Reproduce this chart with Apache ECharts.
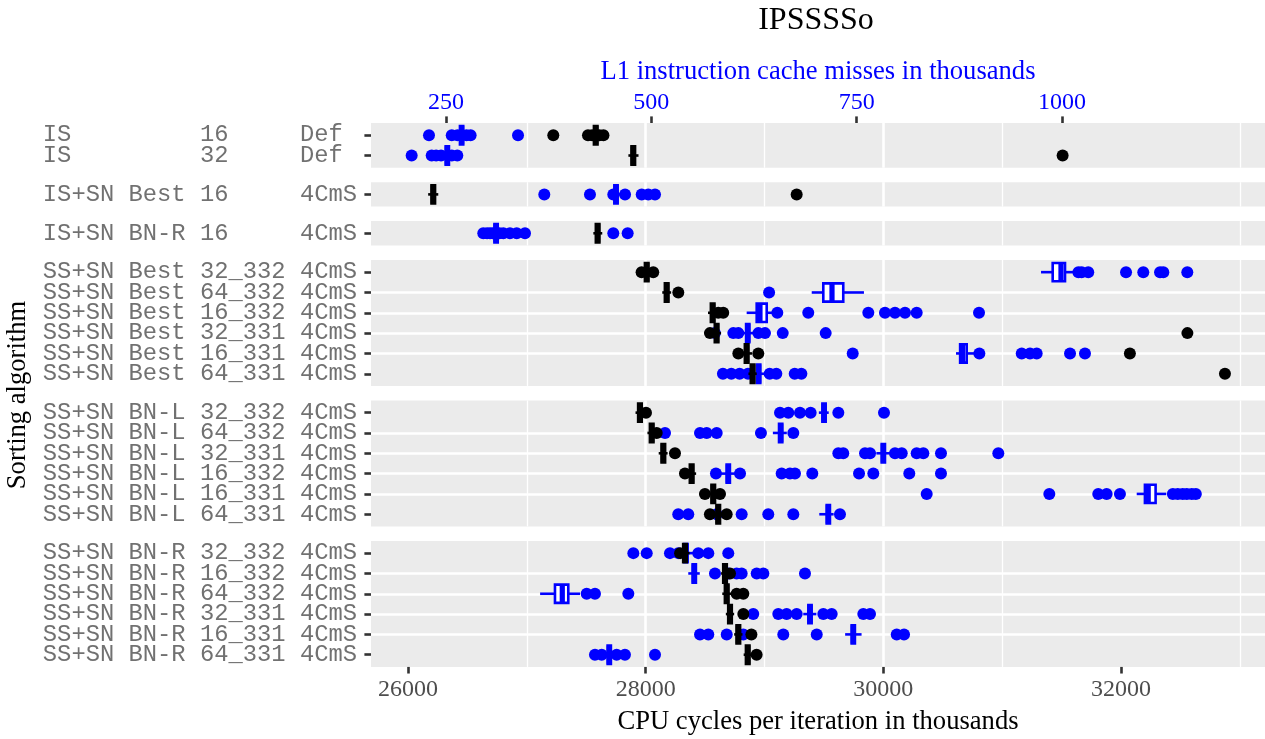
<!DOCTYPE html>
<html><head><meta charset="utf-8">
<script src="https://cdn.jsdelivr.net/npm/echarts@6/dist/echarts.min.js"></script>
<style>html,body{margin:0;padding:0;background:#fff}#c{width:1265px;height:739px}</style>
</head><body><div id="c"></div>
<script>
// ---------------- data ----------------
const rowLabels = [
  "IS         16     Def ",
  "IS         32     Def ",
  "IS+SN Best 16     4CmS",
  "IS+SN BN-R 16     4CmS",
  "SS+SN Best 32_332 4CmS",
  "SS+SN Best 64_332 4CmS",
  "SS+SN Best 16_332 4CmS",
  "SS+SN Best 32_331 4CmS",
  "SS+SN Best 16_331 4CmS",
  "SS+SN Best 64_331 4CmS",
  "SS+SN BN-L 32_332 4CmS",
  "SS+SN BN-L 64_332 4CmS",
  "SS+SN BN-L 32_331 4CmS",
  "SS+SN BN-L 16_332 4CmS",
  "SS+SN BN-L 16_331 4CmS",
  "SS+SN BN-L 64_331 4CmS",
  "SS+SN BN-R 32_332 4CmS",
  "SS+SN BN-R 16_332 4CmS",
  "SS+SN BN-R 64_332 4CmS",
  "SS+SN BN-R 32_331 4CmS",
  "SS+SN BN-R 16_331 4CmS",
  "SS+SN BN-R 64_331 4CmS"
];
const panelSizes = [2, 1, 1, 6, 6, 6];
const cyclesTicks = [26000, 28000, 30000, 32000];
const missesTicks = [250, 500, 750, 1000];

// CPU cycles (thousands) – outlying points, black
const cyclesPoints = [
  [27223, 27515, 27550, 27610, 27645],
  [31509],
  [29271],
  [],
  [27966, 28064],
  [28275],
  [28611, 28653],
  [28541, 32559],
  [28780, 28948, 32075],
  [32875],
  [28003],
  [28093],
  [28247],
  [28331],
  [28499, 28626],
  [28541, 28682],
  [28290],
  [28710],
  [28766, 28822],
  [28822],
  [28890],
  [28934]
];
// L1 instruction cache misses (thousands) – outlying points, blue
const missesPoints = [
  [229.3, 257, 264, 275, 280, 337.7],
  [208.2, 232.6, 238, 244, 257, 263.8],
  [369.7, 425.3, 453.7, 468, 488.3, 496.3, 504.5],
  [295.4, 300, 303.6, 307, 315, 319.8, 327.9, 336.1, 346.2, 453.7, 471.2],
  [1020, 1024, 1032, 1078, 1099, 1119.4, 1123.4, 1152.6],
  [643.4],
  [653.4, 691.1, 764.2, 784.5, 796.7, 808.9, 823.1, 899],
  [577.5, 599.8, 606, 630.3, 638.4, 660, 712.3],
  [745.2, 899.4, 951, 961.1, 969.2, 1009.8, 1028],
  [587.2, 597.4, 607.5, 617.7, 644.1, 652.2, 674.6, 682.7],
  [656.7, 666.8, 681, 694, 727.7, 783.3],
  [516.7, 559.3, 567.4, 579.6, 633.5, 672.9],
  [727.7, 733.7, 760.2, 766.3, 796.7, 804.9, 823.1, 831.2, 852.7, 922.5],
  [578.7, 608, 658.7, 668.8, 674.9, 696, 752.9, 770.3, 814.1, 852.7],
  [835.3, 984.6, 1044.2, 1054.4, 1070.6, 1135, 1141, 1147, 1152, 1158, 1163],
  [532.8, 545, 579.6, 610, 642.4, 672.9, 729.7],
  [478.1, 494.4, 522.7, 532.8, 557.2, 569.4, 593.7],
  [577.5, 593.7, 603.9, 610, 628.3, 636.4, 687.1],
  [421.3, 431.4, 472],
  [624.1, 654.6, 664.8, 677, 709.4, 719.6, 758.1, 766.3],
  [559.3, 569.4, 591.8, 612, 660.7, 701.4, 798.8, 807.7],
  [431.4, 439.6, 457.8, 467.9, 504.5]
];
// box statistics [min, Q1, median, Q3, max]
const cyclesBoxes = [
  [27530, 27565, 27580, 27595, 27630],
  [27855, 27881, 27896, 27911, 27940],
  [26170, 26198, 26213, 26228, 26255],
  [27560, 27581, 27596, 27611, 27635],
  [27975, 27994, 28009, 28024, 28045],
  [28140, 28162, 28177, 28192, 28215],
  [28525, 28549, 28564, 28579, 28600],
  [28560, 28582, 28597, 28612, 28635],
  [28810, 28835, 28850, 28865, 28895],
  [28865, 28885, 28900, 28915, 28935],
  [27915, 27937, 27952, 27967, 27985],
  [28015, 28036, 28051, 28066, 28085],
  [28110, 28134, 28149, 28164, 28185],
  [28350, 28372, 28387, 28402, 28425],
  [28535, 28554, 28569, 28584, 28605],
  [28575, 28596, 28611, 28626, 28650],
  [28295, 28316, 28331, 28346, 28370],
  [28635, 28653, 28668, 28683, 28705],
  [28645, 28667, 28682, 28697, 28720],
  [28675, 28695, 28710, 28725, 28745],
  [28745, 28765, 28780, 28795, 28815],
  [28825, 28844, 28859, 28874, 28895]
];
const missesBoxes = [
  [257, 267, 269, 271, 280],
  [240, 249.6, 251.6, 253.6, 262],
  [449, 455, 457, 459, 466],
  [300, 309, 310.9, 313, 322],
  [974.5, 988.7, 998.8, 1003.7, 1018],
  [695.3, 709.4, 720, 733.7, 758.9],
  [616.1, 628.3, 632.3, 640.5, 650],
  [608, 615.4, 617.4, 619.4, 627],
  [871, 876, 879, 884, 893],
  [622, 628.7, 630.7, 632.7, 640],
  [704, 708.3, 710.3, 712.3, 716],
  [648, 655.5, 657.5, 659.5, 665],
  [774, 780.5, 782.5, 784.5, 791],
  [584, 591.7, 593.7, 595.7, 603],
  [1091, 1101, 1105, 1114, 1127],
  [704.5, 713.5, 715.5, 717.5, 722],
  [533, 540.2, 542.2, 544.2, 551],
  [545, 550.3, 552.3, 554.3, 559],
  [364.6, 382.7, 391.6, 398.9, 413.2],
  [685, 691.2, 693.2, 695.2, 701],
  [736, 743.9, 745.9, 747.9, 756],
  [441, 446.8, 448.8, 450.8, 457]
];

// ---------------- layout ----------------
const U = 20.32, GAP = 14.5, PANEL_TOP = 123, LEFT = 371;
const X_MIN = 25689, X_MAX = 33212, M_MIN = 158.7, M_MAX = 1247.2;
const SERIF = 'Liberation Serif', MONO = 'Liberation Mono';
const BLUE = '#0000FF', BLACK = '#000000';

function boxRender(color) {
  return function (params, api) {
    const y = api.value(0);
    const p = [1, 2, 3, 4, 5].map(k => api.coord([api.value(k), y]));
    const hh = api.size([0, 1])[1] * 0.45;
    const yc = p[0][1];
    return {
      type: 'group', children: [
        { type: 'line', shape: { x1: p[0][0], y1: yc, x2: p[1][0], y2: yc }, style: { stroke: color, lineWidth: 2.6 } },
        { type: 'line', shape: { x1: p[3][0], y1: yc, x2: p[4][0], y2: yc }, style: { stroke: color, lineWidth: 2.6 } },
        { type: 'rect', shape: { x: p[1][0], y: yc - hh, width: p[3][0] - p[1][0], height: 2 * hh }, style: { fill: '#FFFFFF', stroke: color, lineWidth: 2.6 } },
        { type: 'line', shape: { x1: p[2][0], y1: yc - hh, x2: p[2][0], y2: yc + hh }, style: { stroke: color, lineWidth: 5.2 } }
      ]
    };
  };
}

const grids = [], xAxes = [], yAxes = [], series = [];
let curTop = PANEL_TOP, offset = 0;
panelSizes.forEach((n, g) => {
  const h = (n + 0.2) * U;
  const first = g === 0, last = g === panelSizes.length - 1;
  grids.push({ left: LEFT, right: 0, top: curTop, height: h, show: true, backgroundColor: '#EBEBEB', borderWidth: 0, borderColor: 'transparent', containLabel: false, outerBoundsMode: 'none' });
  curTop += h + GAP;
  xAxes.push({
    type: 'value', gridIndex: g, position: 'bottom', min: X_MIN, max: X_MAX, minInterval: 2000, maxInterval: 2000,
    axisLine: { show: false, onZero: false },
    axisTick: { show: last, customValues: cyclesTicks, length: 6.6, lineStyle: { color: '#333333', width: 2.6 } },
    axisLabel: { show: last, customValues: cyclesTicks, margin: 11, color: '#4D4D4D', fontFamily: SERIF, fontSize: 24, formatter: v => String(v) },
    splitLine: { show: true, showMinLine: false, showMaxLine: false, lineStyle: { color: '#FFFFFF', width: 2.6 } },
    minorTick: { show: false, splitNumber: 2 },
    minorSplitLine: { show: true, lineStyle: { color: '#FFFFFF', width: 1.3 } },
    name: last ? 'CPU cycles per iteration in thousands' : '', nameLocation: 'middle', nameGap: 42, nameMoveOverlap: false,
    nameTextStyle: { color: '#000000', fontFamily: SERIF, fontSize: 26.6 }
  });
  xAxes.push({
    type: 'value', gridIndex: g, position: 'top', min: M_MIN, max: M_MAX, show: first,
    axisLine: { show: false, onZero: false },
    axisTick: { show: true, customValues: missesTicks, length: 6.6, lineStyle: { color: '#333333', width: 2.6 } },
    axisLabel: { show: true, customValues: missesTicks, margin: 8, color: BLUE, fontFamily: SERIF, fontSize: 24, formatter: v => String(v) },
    splitLine: { show: false },
    name: first ? 'L1 instruction cache misses in thousands' : '', nameLocation: 'middle', nameGap: 37, nameMoveOverlap: false,
    nameTextStyle: { color: BLUE, fontFamily: SERIF, fontSize: 26.6 }
  });
  const idx = Array.from({ length: n }, (_, i) => i);
  yAxes.push({
    type: 'value', gridIndex: g, inverse: true, min: -0.6, max: n - 0.4, minInterval: 1, maxInterval: 1,
    axisLine: { show: false, onZero: false },
    axisTick: { show: true, customValues: idx, length: 6.6, lineStyle: { color: '#333333', width: 2.6 } },
    axisLabel: { show: false },
    splitLine: { show: true, showMinLine: false, showMaxLine: false, lineStyle: { color: '#FFFFFF', width: 2.6 } }
  });
  const blackPts = [], bluePts = [], blackBox = [], blueBox = [], labelPts = [];
  for (let i = 0; i < n; i++) {
    const r = offset + i;
    cyclesPoints[r].forEach(v => blackPts.push([v, i]));
    missesPoints[r].forEach(v => bluePts.push([v, i]));
    blackBox.push([i].concat(cyclesBoxes[r]));
    blueBox.push([i].concat(missesBoxes[r]));
    labelPts.push({ value: [X_MIN, i], name: rowLabels[r] });
  }
  // row labels of the (discrete) y axis, anchored on the axis via the library's scale
  series.push({
    type: 'scatter', xAxisIndex: 2 * g, yAxisIndex: g, data: labelPts, symbol: 'circle', symbolSize: 1,
    itemStyle: { color: 'rgba(0,0,0,0)' }, silent: true, clip: false, z: 1,
    label: { show: true, position: 'left', distance: 13.5, formatter: p => p.name, color: '#4D4D4D', fontFamily: MONO, fontSize: 23.8 },
    labelLayout: { hideOverlap: false }
  });
  series.push({ type: 'scatter', xAxisIndex: 2 * g + 1, yAxisIndex: g, data: bluePts, symbol: 'circle', symbolSize: 12, itemStyle: { color: BLUE, opacity: 1 }, silent: true, z: 2 });
  series.push({ type: 'custom', xAxisIndex: 2 * g + 1, yAxisIndex: g, data: blueBox, encode: { x: [1, 2, 3, 4, 5], y: 0 }, renderItem: boxRender(BLUE), silent: true, z: 3 });
  series.push({ type: 'scatter', xAxisIndex: 2 * g, yAxisIndex: g, data: blackPts, symbol: 'circle', symbolSize: 12, itemStyle: { color: BLACK, opacity: 1 }, silent: true, z: 4 });
  series.push({ type: 'custom', xAxisIndex: 2 * g, yAxisIndex: g, data: blackBox, encode: { x: [1, 2, 3, 4, 5], y: 0 }, renderItem: boxRender(BLACK), silent: true, z: 5 });
  offset += n;
});

const chart = echarts.init(document.getElementById('c'), null, { renderer: 'canvas' });
chart.setOption({
  animation: false,
  backgroundColor: '#FFFFFF',
  grid: grids, xAxis: xAxes, yAxis: yAxes, series: series,
  graphic: [
    { type: 'text', x: 816, y: 21, style: { text: 'IPSSSSo', font: '32px "Liberation Serif"', fill: '#000000', align: 'center', verticalAlign: 'middle' } },
    { type: 'text', x: 18, y: 395, rotation: Math.PI / 2, style: { text: 'Sorting algorithm', font: '26.6px "Liberation Serif"', fill: '#000000', align: 'center', verticalAlign: 'middle' } }
  ]
});
</script>
</body></html>
